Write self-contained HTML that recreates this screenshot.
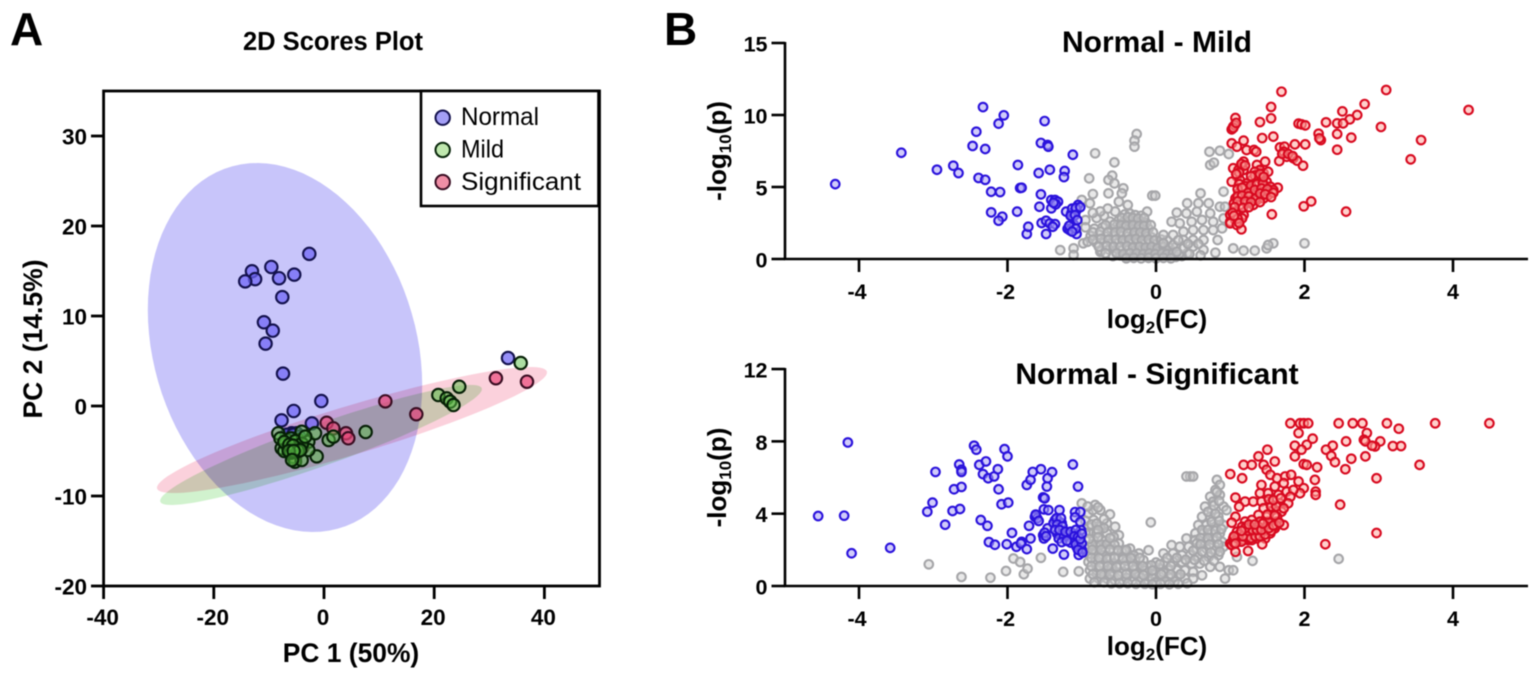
<!DOCTYPE html>
<html lang="en">
<head>
<meta charset="utf-8">
<title>PCA scores plot and volcano plots</title>
<style>
html,body{margin:0;padding:0;background:#fff;width:1535px;height:673px;overflow:hidden}
svg{display:block;filter:blur(.4px)}
text{font-family:"Liberation Sans",sans-serif;fill:#000}
.b{font-weight:700}
</style>
</head>
<body>
<svg id="figure" xmlns="http://www.w3.org/2000/svg" width="1535" height="673" viewBox="0 0 1535 673">
  <rect x="0" y="0" width="1535" height="673" fill="#fff"/>
  <text class="b" x="10" y="45" font-size="46">A</text>
  <text class="b" x="664" y="45" font-size="46">B</text>
  <g id="panelA"></g>
  <g id="panelTop"></g>
  <g id="panelBottom"></g>
</svg>
<script>
/* ---------- Panel A data: flat lists of PC1, PC2 pairs ---------- */
const scoresNormal = [-2.67,16.9, -9.56,15.45, -13.07,14.97, -12.5,14.1, -14.3,13.85, -8.16,14.2, -5.4,14.6, -7.57,12.1, -10.9,9.3, -9.3,8.37, -10.6,6.93, -7.44,3.6, -0.49,0.55, -5.5,-0.55, -7.7,-1.6, -2.2,-1.93, 33.4,5.33, -5.87,-3.03, -4.96,-3.03, -6.77,-3.2, -5.4,-3.5, -6.3,-3.8, -5.6,-3.2, -4.5,-3.4, -5.8,-4.5, -4.9,-4.2, -6.6,-4.3];
const scoresSignificant = [31.2,3.08, 36.84,2.7, 11.13,0.52, 16.75,-0.92, 0.49,-1.86, 1.69,-2.48, 3.99,-3.03, 4.41,-3.59, -5.26,-5.78, -3.9,-4.6];
const scoresMild = [35.7,4.78, 24.55,2.14, 20.75,1.22, 22.27,0.85, 22.9,0.48, 23.5,0.11, 7.56,-2.89, -1.33,-5.6, 0.85,-3.78, 1.7,-3.4, -8.3,-3.03, -7.68,-4.7, -6.77,-3.78, -6.47,-4.7, -5.57,-5.63, -5.26,-6.19, -4.05,-6.0, -4.66,-3.78, -2.85,-3.97, -2.85,-4.89, -4.05,-2.86, -1.63,-3.03, -7.0,-4.2, -6.0,-3.6, -5.2,-3.9, -4.0,-4.2, -7.9,-3.6, -7.2,-5.0, -6.0,-5.2, -3.4,-3.4, -5.0,-4.7, -7.2,-4.0, -6.3,-4.3, -5.6,-4.4, -4.7,-5.0, -4.3,-4.9, -6.4,-5.0, -5.5,-5.0, -5.8,-6.0];
/* ellipse parameters: centre x, centre y, half-range x, half-range y, correlation */
const ellipseNormal = [-7.08,6.5,24.9,20.5,-0.204];
const ellipseMild = [-0.54,-4.33,29.2,6.67,0.93];
const ellipseSignificant = [5.08,-2.67,35.4,7.0,0.915];
const scoresXTicks = [-40,-20,0,20,40];
const scoresYTicks = [-20,-10,0,10,20,30];
const legendLabels = ["Normal","Mild","Significant"];

/* ---------- Panel B data: flat lists of log2(FC), -log10(p) pairs ---------- */
const volcanoXTicks = [-4,-2,0,2,4];
const mildYTicks = [0,5,10,15];
const significantYTicks = [0,4,8,12];

const mildGray = [-0.26,8.68, -0.29,8.22, -0.29,7.8, -0.82,7.34, -0.56,6.71, -0.9,5.6, -0.59,5.79, -0.64,5.49, -0.56,5.25, -0.64,4.56, -0.44,4.91, -0.46,4.56, -0.85,4.51, -0.05,4.4, -0.01,4.4, -0.12,3.29, -0.38,3.75, -0.5,3.98, -1,4.1, -0.89,3.87, -1.29,0.62, -1.11,0.74, -1.11,0.28, -0.75,0.5, -0.98,1.09,
 -0.42,3.1, -0.35,3.15, -0.28,3.05, -0.2,3.0, -0.62,2.6, -0.5,2.7, -0.44,2.55, -0.36,2.65, -0.27,2.55, -0.2,2.6, -0.13,2.5, -0.83,2.1, -0.72,2.2, -0.6,2.1, -0.52,2.05, -0.43,2.15, -0.34,2.05, -0.26,2.1, -0.17,2.0, -0.1,2.1, -0.88,1.6, -0.77,1.7, -0.68,1.55, -0.57,1.65, -0.47,1.6, -0.4,1.55, -0.31,1.65, -0.22,1.55, -0.14,1.6, -0.06,1.5, -0.8,1.1, -0.7,1.15, -0.6,1.05, -0.51,1.1, -0.42,1.15, -0.33,1.05, -0.25,1.1, -0.17,1.0, -0.09,1.1, -0.02,1.0, 0.06,1.05, -0.74,0.6, -0.63,0.65, -0.55,0.55, -0.46,0.6, -0.37,0.65, -0.29,0.55, -0.2,0.6, -0.12,0.5, -0.04,0.6, 0.04,0.5, 0.12,0.6, 0.2,0.55, -0.58,0.2, -0.48,0.25, -0.4,0.15, -0.3,0.2, -0.22,0.25, -0.13,0.15, -0.05,0.2, 0.03,0.15, 0.1,0.25, 0.18,0.2, 0.27,0.15, 0.35,0.2,
 -0.7,3.0, -0.8,2.85, -0.55,3.3, -0.65,3.5, -0.75,3.3, -0.85,3.2, -0.95,2.7, -0.95,2.2, -0.92,1.2,
 -0.46,2.85, -0.38,2.9, -0.31,2.85, -0.24,2.8, -0.16,2.85, -0.68,2.35, -0.56,2.4, -0.47,2.35, -0.4,2.3, -0.31,2.35, -0.23,2.3, -0.16,2.3, -0.07,2.35, -0.85,1.85, -0.75,1.9, -0.65,1.85, -0.55,1.85, -0.47,1.9, -0.38,1.8, -0.29,1.85, -0.21,1.85, -0.13,1.8, -0.04,1.85, -0.85,1.35, -0.74,1.4, -0.64,1.35, -0.54,1.35, -0.45,1.3, -0.36,1.35, -0.27,1.4, -0.19,1.3, -0.1,1.35, -0.02,1.3, 0.07,1.35, 0.15,1.3, -0.77,0.85, -0.66,0.9, -0.57,0.85, -0.48,0.85, -0.39,0.9, -0.31,0.8, -0.22,0.85, -0.14,0.8, -0.06,0.85, 0.02,0.75, 0.1,0.85, 0.18,0.8, 0.27,0.85, -0.68,0.4, -0.53,0.4, -0.44,0.35, -0.35,0.4, -0.26,0.4, -0.17,0.35, -0.09,0.4, -0.01,0.35, 0.08,0.4, 0.15,0.35, 0.23,0.4, 0.31,0.35, 0.42,0.4, -0.4,0.05, -0.3,0.08, -0.2,0.05, -0.1,0.08, 0.0,0.05, 0.1,0.08, 0.2,0.05,
 0.72,7.45, 0.86,7.52, 0.98,7.29, 0.73,6.53, 0.78,6.69, 0.6,4.56, 0.91,4.68, 0.42,3.87, 0.28,3.22, 0.71,3.87, 0.57,3.87, 0.21,2.59, 0.41,3.17, 0.55,3.29, 0.73,3.17, 0.86,3.63, 0.93,3.63, 0.32,2.48, 0.48,2.59, 0.62,2.71, 0.77,2.59, 0.91,2.82, 0.37,1.9, 0.5,2.01, 0.64,2.01, 0.77,2.01, 0.89,2.13, 0.1,1.67, 0.23,1.67, 0.37,1.32, 0.5,1.32, 0.64,1.32, 0.83,1.32, 0.1,1.09, 0.23,0.97, 0.37,0.74, 0.5,0.86, 0.64,0.63, 0.8,0.44, 1.04,0.74, 1.18,0.58, 1.33,0.58, 1.49,0.74, 1.58,1.09, 1.51,0.97, 2.0,1.09, 0.3,1.3, 0.43,1.05, 0.57,1.05, 0.28,0.5, 0.45,0.35, 0.6,0.25];

const mildDown = [-4.32,5.2, -3.43,7.38, -2.95,6.2, -2.73,6.48, -2.66,5.97, -2.47,7.85, -2.42,8.84, -2.33,10.55, -2.3,7.64, -2.12,9.4, -2.05,9.98, -2.39,5.63, -2.3,5.5, -2.22,4.67, -2.1,4.65, -2.22,3.24, -2.07,2.94, -2.12,2.66, -1.87,3.29, -1.86,6.53, -1.83,4.93, -1.81,4.95, -1.74,1.74, -1.72,2.24, -1.57,3.63, -1.55,4.49, -1.58,5.97, -1.43,6.2, -1.55,8.06, -1.46,7.92, -1.45,7.8, -1.5,9.58, -1.12,7.24, -1.23,6.11, -1.24,5.69, -1.54,2.5, -1.48,2.66, -1.43,2.47, -1.36,2.42, -1.39,2.24, -1.48,1.74, -1.41,4.1, -1.36,4.1, -1.32,3.98, -1.41,3.52, -1.35,3.8, -1.21,3.29, -1.14,3.17, -1.1,3.29, -1.05,3.75, -1.07,3.4, -1.12,2.9, -1.1,2.35, -1.19,2.1, -1.16,2.0, -1.07,1.74,
 -1.13,3.5, -1.08,3.55, -1.15,3.0, -1.09,3.05, -1.06,2.7, -1.17,2.3, -1.08,2.1, -1.13,1.9, -1.38,3.9, -1.02,3.6];

const mildUp = [1.69,11.62, 3.1,11.74, 4.21,10.35, 2.81,10.76, 2.51,10.25, 2.71,10.0, 2.61,9.7, 2.29,9.49, 2.44,9.42, 2.52,9.42, 1.55,10.56, 1.55,9.77, 1.4,9.51, 1.07,9.79, 1.04,9.19, 1.02,9.0, 1.06,9.3, 1.92,9.4, 1.96,9.35, 2.01,9.28, 3.03,9.17, 3.57,8.26, 3.43,6.92, 2.19,8.7, 2.22,8.26, 2.2,8.38, 2.44,8.68, 2.63,8.43, 2.44,7.59, 1.43,8.4, 1.58,8.5, 1.87,7.96, 2.01,7.96, 1.18,8.22, 1.02,8.03, 1.09,7.8, 1.22,7.57, 1.32,7.57, 1.35,7.45, 1.67,7.75, 1.73,7.8, 1.72,7.45, 1.76,7.1, 1.66,6.8, 1.85,7.0, 1.9,6.83, 1.98,6.48, 1.47,6.76, 1.18,6.76, 1.16,6.41, 1.04,6.3, 1.11,6.18, 1.18,6.18, 1.09,5.72, 1.02,5.37, 1.13,5.49,
 1.36,6.53, 1.4,6.18, 1.33,6.06, 1.45,5.95, 1.51,6.06, 1.38,5.72, 1.29,5.49, 1.42,5.49, 1.49,5.37, 1.22,5.25, 1.33,5.14, 1.45,5.02, 1.54,5.02, 1.64,4.95, 1.18,4.79, 1.27,4.79, 1.38,4.68, 1.49,4.68, 1.58,4.79, 1.11,4.56, 1.2,4.44, 1.31,4.44, 1.42,4.33, 1.51,4.44, 1.07,4.21, 1.16,4.1, 1.24,4.1, 1.36,4.1, 1.45,4.21, 1.05,3.87, 1.13,3.75, 1.22,3.87, 1.31,3.75, 1.0,3.06, 1.09,3.06, 1.18,3.06, 1.0,2.59, 1.07,2.71, 1.16,2.82, 1.0,2.48, 1.09,2.36, 1.15,2.06, 1.56,3.1, 1.99,3.66, 2.09,4.0, 2.56,3.29,
 1.12,5.2, 1.2,5.05, 1.28,5.1, 1.36,5.2, 1.44,5.25, 1.1,4.85, 1.16,4.95, 1.24,4.6, 1.33,4.8, 1.42,4.9, 1.5,4.85, 1.58,4.6, 1.1,4.35, 1.16,4.4, 1.25,4.35, 1.34,4.2, 1.4,4.55, 1.47,4.5, 1.55,4.3, 1.1,4.0, 1.2,4.0, 1.28,3.95, 1.4,3.95, 1.06,3.6, 1.17,3.55, 1.25,3.6, 1.33,5.8, 1.4,5.9, 1.28,5.75, 1.45,5.7, 1.03,3.2, 1.1,2.8, 1.05,3.0, 1.12,2.5, 1.15,6.6, 1.12,6.0, 1.2,6.5, 1.08,5.9, 1.04,9.1, 1.08,9.45, 1.7,7.3, 1.78,7.3, 1.84,7.15];

const significantGray = [-3.06,1.2, -2.62,0.5, -2.23,0.46, -2.02,0.83, -1.92,1.52, -1.83,1.33, -1.78,0.65, -1.73,0.96, -1.55,1.56, -1.25,0.78, -1.04,0.81, -0.07,3.52, -0.1,1.98,
 -1.0,4.57, -0.82,4.48, -0.75,4.2, -0.62,3.96, -0.91,4.02, -0.66,3.46, -0.55,3.28, -0.84,3.65, -0.75,3.28, -0.91,3.28, -0.5,2.81, -0.89,2.91, -0.8,2.91, -0.66,2.91, -0.57,2.72, -0.84,2.54, -0.73,2.54, -0.62,2.35, -0.5,2.35, -0.35,2.07, -0.91,2.17, -0.8,2.17, -0.68,2.07, -0.57,1.98, -0.46,1.89, -0.23,1.8, -0.91,1.8, -0.82,1.8, -0.71,1.7, -0.62,1.61, -0.5,1.61, -0.39,1.61, -0.28,1.43, -0.17,1.43, -0.91,1.33, -0.82,1.33, -0.71,1.24, -0.59,1.24, -0.48,1.15, -0.37,1.15, -0.26,1.06, -0.12,1.06, -0.01,1.06, -0.89,0.87, -0.8,0.87, -0.68,0.87, -0.57,0.78, -0.46,0.78, -0.35,0.69, -0.23,0.69, -0.12,0.69, -0.01,0.65, -0.89,0.41, -0.77,0.41, -0.66,0.41, -0.55,0.31, -0.44,0.31, -0.32,0.31, -0.21,0.28, -0.1,0.28, -0.01,0.22,
 0.82,5.87, 0.86,5.59, 0.8,5.31, 0.73,4.94, 0.86,5.04, 0.77,4.67, 0.66,4.39, 0.75,4.2, 0.91,4.39, 0.62,3.83, 0.73,3.83, 0.84,3.83, 0.95,4.2, 0.57,3.37, 0.68,3.37, 0.8,3.28, 0.91,3.37, 0.53,2.91, 0.64,2.91, 0.75,2.91, 0.86,2.91, 0.41,2.63, 0.53,2.54, 0.66,2.44, 0.77,2.54, 0.89,2.44, 0.21,2.26, 0.32,2.17, 0.44,2.17, 0.55,2.07, 0.68,2.07, 0.8,1.98, 0.91,2.17, 0.1,1.8, 0.23,1.8, 0.35,1.7, 0.46,1.7, 0.57,1.61, 0.71,1.61, 0.84,1.7, 0.12,1.33, 0.23,1.33, 0.35,1.33, 0.48,1.24, 0.59,1.24, 0.73,1.06, 0.86,1.06, 0.98,0.87, 1.04,0.87, 0.93,0.41, 0.05,0.96, 0.17,0.87, 0.28,0.87, 0.39,0.87, 0.5,0.78, 0.62,0.59, 0.05,0.5, 0.17,0.5, 0.28,0.5, 0.39,0.41, 0.5,0.41, 0.46,6.06, 0.41,6.06, 0.5,6.06, 2.46,1.5, 1.3,1.39, 1.09,1.61,
 -0.4,1.4, -0.6,1.0, -0.75,1.05, -0.3,0.9, -0.5,0.55, -0.15,0.85, 0.0,1.3, -0.05,0.45, 0.1,0.75, 0.2,1.1, -0.7,0.6, -0.4,0.45, -0.2,0.45, 0.0,0.2, 0.12,0.25, 0.25,0.25, -0.3,1.7, -0.42,1.95, -0.68,2.5, -0.75,1.5,
 -0.86,2.3, -0.74,2.3, -0.66,2.32, -0.56,2.28, -0.86,2.0, -0.74,2.0, -0.62,2.02, -0.51,1.98, -0.4,2.0, -0.87,1.55, -0.77,1.55, -0.66,1.5, -0.56,1.55, -0.44,1.5, -0.34,1.55, -0.22,1.55, -0.87,1.1, -0.76,1.1, -0.65,1.1, -0.53,1.05, -0.42,1.1, -0.31,1.1, -0.18,1.1, -0.06,1.15, 0.05,1.2, -0.85,0.65, -0.74,0.65, -0.62,0.65, -0.51,0.6, -0.4,0.65, -0.28,0.65, -0.17,0.6, -0.05,0.85, 0.07,0.65, 0.2,0.65, 0.33,0.65, -0.83,0.2, -0.7,0.2, -0.6,0.15, -0.49,0.15, -0.38,0.15, -0.27,0.12, -0.15,0.12, -0.05,0.1, 0.06,0.12, 0.18,0.1, 0.3,0.12, 0.42,0.15,
 0.62,3.1, 0.7,3.1, 0.8,3.05, 0.88,3.15, 0.6,2.65, 0.7,2.65, 0.82,2.7, 0.55,2.35, 0.6,2.3, 0.72,2.3, 0.84,2.3, 0.5,1.95, 0.62,1.9, 0.74,1.85, 0.86,1.9, 0.4,1.45, 0.52,1.45, 0.65,1.4, 0.78,1.4, 0.28,1.55, 0.15,1.55, 0.75,3.55, 0.85,3.6, 0.7,4.1, 0.8,4.0, 0.78,4.45, 0.85,4.7, 0.82,5.2,
 -0.95,3.6, -0.87,3.4, -0.8,3.45, -0.7,3.2, -0.78,3.1, -0.95,2.95, -0.9,2.6, -0.78,2.7, -0.62,2.65, -0.7,3.7, -0.85,4.2, -0.92,4.4, -0.78,4.35];

const significantDown = [-4.15,7.94, -4.55,3.87, -4.2,3.89, -4.1,1.81, -3.58,2.11, -2.97,6.31, -3.01,4.61, -3.08,4.11, -2.84,3.39, -2.74,4.15, -2.64,4.26, -2.72,5.35, -2.62,5.48, -2.65,6.72, -2.62,6.43, -2.62,6.31, -2.45,7.76, -2.42,7.54, -2.38,6.7, -2.29,6.89, -2.33,6.19, -2.26,5.96, -2.18,6.06, -2.13,6.46, -2.12,5.35, -2.04,7.57, -2.0,7.17, -2.08,4.52, -1.99,4.61, -2.36,3.65, -2.27,3.33, -2.25,2.43, -2.17,2.28, -2.01,2.31, -1.94,2.94, -1.88,2.17, -1.81,2.44, -1.82,2.35, -1.74,2.04, -1.69,2.63, -1.74,5.59, -1.69,5.87, -1.66,6.31, -1.55,6.46, -1.4,6.3, -1.46,5.96, -1.47,5.5, -1.52,4.9, -1.5,4.85, -1.12,6.72, -1.05,5.5, -1.71,3.33, -1.63,3.83, -1.6,3.74, -1.52,2.81, -1.51,2.63, -1.46,3.19, -1.51,4.24, -1.45,4.2, -1.3,4.2, -1.39,2.07, -1.24,1.74,
 -1.36,3.65, -1.31,3.57, -1.27,3.48, -1.38,3.48, -1.33,2.89, -1.29,2.89, -1.31,2.63, -1.24,2.72, -1.18,2.81, -1.11,2.89, -1.13,2.63, -1.09,2.54, -1.04,2.44, -1.07,2.17, -1.02,2.07, -1.0,2.0, -1.04,1.72, -1.09,4.09, -1.02,4.09, -1.09,3.8, -1.02,3.54, -1.01,3.09, -1.27,2.43,
 -1.34,3.75, -1.28,3.75, -1.33,3.4, -1.26,3.3, -1.36,3.1, -1.3,3.1, -1.22,3.0, -1.15,3.0, -1.08,3.1, -1.1,2.75, -1.05,2.7, -1.15,2.4, -1.08,2.3, -1.0,2.35, -1.05,2.0, -0.99,1.85, -1.02,2.6, -1.0,2.9, -1.2,2.5, -1.62,3.95, -1.58,3.6, -1.5,2.95, -1.48,2.75];

const significantUp = [1.81,9, 1.94,9, 1.99,9, 2.05,9, 2.46,9, 2.65,9, 2.78,9, 3.11,9, 3.76,9, 4.49,9, 3.27,8.7, 1.92,8.46, 2.84,8.46, 2.8,8.09, 2.82,8.0, 3.02,8.0, 2.95,7.72, 2.91,7.76, 3.19,7.74, 3.3,7.74, 2.56,8.0, 2.38,7.76, 2.29,7.54, 2.36,7.2, 2.41,6.85, 2.63,7.04, 2.82,7.17, 2.55,6.46, 3.55,6.7, 2.97,5.96, 2.48,4.5, 2.97,2.93, 2.28,2.31, 2.11,8.15, 2.03,7.81, 1.87,7.76, 1.96,7.54, 1.87,7.17, 1.99,6.74, 2.03,6.7, 2.17,6.57, 2.14,5.87, 2.15,5.22, 2.15,5.04,
 1.5,7.54, 1.38,7.17, 1.6,6.89, 1.18,6.7, 1.29,6.7, 1.45,6.7, 1.0,6.19, 1.16,5.96, 1.49,6.43, 1.54,6.15, 1.63,5.96, 1.74,6.06, 1.82,6.15, 1.92,5.78, 1.99,5.41, 1.94,5.13, 1.42,5.59, 1.6,5.5, 1.72,5.69, 1.76,5.22, 1.85,5.31, 1.4,5.13, 1.51,5.13, 1.65,5.04, 1.81,4.94, 1.07,4.89, 1.2,4.67, 1.31,4.67, 1.12,4.39, 1.42,4.67, 1.54,4.57, 1.67,4.57, 1.78,4.57, 1.45,4.3, 1.58,4.2, 1.69,4.11, 1.38,3.93, 1.49,3.83, 1.63,3.83, 1.07,3.83, 1.02,3.5,
 1.2,3.56, 1.29,3.65, 1.4,3.56, 1.51,3.56, 1.63,3.56, 1.72,3.37, 1.16,3.28, 1.27,3.28, 1.38,3.28, 1.49,3.28, 1.6,3.19, 1.09,3.0, 1.2,2.91, 1.31,2.91, 1.42,2.91, 1.54,2.91, 1.04,2.63, 1.13,2.54, 1.24,2.54, 1.36,2.63, 1.47,2.63, 1.0,2.35, 1.07,2.54, 1.18,2.54, 1.29,2.54, 1.02,2.26, 1.07,1.89, 1.24,1.94, 1.43,2.31,
 1.05,2.4, 1.1,2.65, 1.15,2.45, 1.22,2.7, 1.28,2.65, 1.34,2.75, 1.4,2.75, 1.47,2.85, 1.55,3.05, 1.62,3.35, 1.12,2.85, 1.17,2.75, 1.24,3.05, 1.3,3.1, 1.36,3.1, 1.42,3.1, 1.52,3.2, 1.58,3.35, 1.66,3.5, 1.2,3.2, 1.25,3.4, 1.33,3.4, 1.44,3.45, 1.15,3.05, 1.05,2.75, 1.07,2.35, 1.55,4.4, 1.62,4.4, 1.72,4.3, 1.52,4.8, 1.58,4.75, 1.68,4.85, 1.5,3.95, 1.6,3.9];

/* ---------- axis functions ---------- */
const scoresX = v => 324 + v * 5.51;
const scoresY = v => 406 - v * 9.0;
const volcanoX = v => 1156 + v * 74.25;
const mildY = v => 259 - v * 14.4;
const significantY = v => 586 - v * 18.08;

const NS = 'http://www.w3.org/2000/svg';
function make(parent, tag, attrs, content) {
  const el = document.createElementNS(NS, tag);
  for (const k in attrs) el.setAttribute(k, attrs[k]);
  if (content !== undefined) el.textContent = content;
  parent.appendChild(el);
  return el;
}
function pairs(list) {
  const out = [];
  for (let i = 0; i + 1 < list.length; i += 2) out.push([list[i], list[i + 1]]);
  return out;
}

/* ---------- Panel A ---------- */
const panelA = document.getElementById('panelA');

function drawEllipse(params, fill, name) {
  const [cx, cy, ex, ey, rho] = params;
  let d = '';
  for (let i = 0; i <= 96; i++) {
    const t = i / 96 * 2 * Math.PI;
    const x = cx + ex * Math.cos(t);
    const y = cy + ey * (rho * Math.cos(t) + Math.sqrt(1 - rho * rho) * Math.sin(t));
    d += (i ? 'L' : 'M') + scoresX(x).toFixed(1) + ' ' + scoresY(y).toFixed(1);
  }
  const el = make(panelA, 'path', {d: d + 'Z', fill: fill, style: 'mix-blend-mode:multiply'});
  
  
}
drawEllipse(ellipseNormal, '#c8c5fa', 'normal-confidence-ellipse');
drawEllipse(ellipseMild, '#d1f2ce', 'mild-confidence-ellipse');
drawEllipse(ellipseSignificant, '#fbd1dc', 'significant-confidence-ellipse');

function drawScores(list, fill, stroke, name) {
  pairs(list).forEach(p => {
    const el = make(panelA, 'circle', {cx: scoresX(p[0]), cy: scoresY(p[1]), r: 6.2, fill: fill, stroke: stroke, 'stroke-width': 2.1});
    
    
  });
}
drawScores(scoresNormal, 'rgba(110,100,245,.72)', '#14124e', 'normal-sample-point');
drawScores(scoresSignificant, 'rgba(235,70,120,.68)', '#3a0d22', 'significant-sample-point');
drawScores(scoresMild, 'rgba(90,190,70,.5)', '#062006', 'mild-sample-point');

const frame = make(panelA, 'rect', {x: scoresX(-40), y: scoresY(35), width: scoresX(50) - scoresX(-40), height: scoresY(-20) - scoresY(35), fill: 'none', stroke: '#000', 'stroke-width': 2.8});



scoresXTicks.forEach(v => {
  const tick = make(panelA, 'line', {x1: scoresX(v), x2: scoresX(v), y1: 586, y2: 599, stroke: '#000', 'stroke-width': 2.8});
  
  
  const label = make(panelA, 'text', {x: scoresX(v) - 1, y: 625, 'text-anchor': 'middle', 'font-size': 22.5, class: 'b'}, String(v));
  
  
});
scoresYTicks.forEach(v => {
  const tick = make(panelA, 'line', {x1: 91, x2: 104, y1: scoresY(v), y2: scoresY(v), stroke: '#000', 'stroke-width': 2.8});
  
  
  const label = make(panelA, 'text', {x: 87, y: scoresY(v) + 8.5, 'text-anchor': 'end', 'font-size': 22.5, class: 'b'}, String(v));
  
  
});

const scoresTitle = make(panelA, 'text', {x: 333, y: 50, 'text-anchor': 'middle', 'font-size': 25.5, class: 'b'}, '2D Scores Plot');


const scoresXTitle = make(panelA, 'text', {x: 351, y: 662, 'text-anchor': 'middle', 'font-size': 26.4, class: 'b'}, 'PC 1 (50%)');


const scoresYTitle = make(panelA, 'text', {x: 42, y: 339, 'text-anchor': 'middle', 'font-size': 26.5, class: 'b', transform: 'rotate(-90 42 339)'}, 'PC 2 (14.5%)');



const legendBox = make(panelA, 'rect', {x: 421, y: 91, width: 177.5, height: 115, fill: '#fff', stroke: '#000', 'stroke-width': 2.6});


const legendFills = ['#a39ef5', '#bfe8ae', '#f08ea6'];
const legendStrokes = ['#14124e', '#08260a', '#3a0d22'];
const legendWidths = [78, 43, 120];
legendLabels.forEach((label, i) => {
  const marker = make(panelA, 'circle', {cx: 442.7, cy: 117.7 + i * 32.2, r: 7.2, fill: legendFills[i], stroke: legendStrokes[i], 'stroke-width': 2});
  
  
  const text = make(panelA, 'text', {x: 461, y: 125 + i * 32.5, 'font-size': 25, textLength: legendWidths[i], lengthAdjust: 'spacingAndGlyphs'}, label);
  
  
});

/* ---------- Panel B ---------- */
function drawVolcano(group, yScale, yTicks, gray, down, up, title, titleY, baseY, prefix) {
  const dots = (list, fill, stroke, name) => {
    pairs(list).forEach(p => {
      const el = make(group, 'circle', {cx: volcanoX(p[0]), cy: yScale(p[1]), r: 4.3, fill: fill, stroke: stroke, 'stroke-width': 2.1});
      
      
    });
  };
  dots(gray, 'rgba(205,205,205,.45)', '#a6a6a9', prefix + '-unchanged-point');
  dots(down, 'rgba(170,160,245,.55)', '#2a12dc', prefix + '-down-point');
  dots(up, 'rgba(255,170,160,.55)', '#d80a20', prefix + '-up-point');

  const xAxis = make(group, 'line', {x1: 784, x2: 1528, y1: baseY, y2: baseY, stroke: '#000', 'stroke-width': 2.6});
  
  
  const topValue = yTicks[yTicks.length - 1];
  const yAxis = make(group, 'line', {x1: 785, x2: 785, y1: yScale(topValue) - 1, y2: baseY, stroke: '#000', 'stroke-width': 2.6});
  
  

  volcanoXTicks.forEach(v => {
    const tick = make(group, 'line', {x1: volcanoX(v), x2: volcanoX(v), y1: baseY, y2: baseY + 13, stroke: '#000', 'stroke-width': 2.6});
    
    
    const label = make(group, 'text', {x: volcanoX(v) - (v < 0 ? 2 : 0), y: baseY + 40, 'text-anchor': 'middle', 'font-size': 21.5, class: 'b'}, String(v));
    
    
  });
  yTicks.forEach(v => {
    const tick = make(group, 'line', {x1: 771.5, x2: 785, y1: yScale(v), y2: yScale(v), stroke: '#000', 'stroke-width': 2.6});
    
    
    const label = make(group, 'text', {x: 767.5, y: yScale(v) + 8.5, 'text-anchor': 'end', 'font-size': 21.5, class: 'b'}, String(v));
    
    
  });

  const heading = make(group, 'text', {x: 1157, y: titleY, 'text-anchor': 'middle', 'font-size': 30, class: 'b'}, title);
  
  

  const xTitle = make(group, 'text', {x: 1157, y: baseY + 69, 'text-anchor': 'middle', 'font-size': 26, class: 'b'});
  
  
  make(xTitle, 'tspan', {}, 'log');
  make(xTitle, 'tspan', {dy: 5, 'font-size': 17}, '2');
  make(xTitle, 'tspan', {dy: -5}, '(FC)');

  const midY = (yScale(topValue) + baseY) / 2;
  const yTitle = make(group, 'text', {x: 726, y: midY, 'text-anchor': 'middle', 'font-size': 26, class: 'b', transform: 'rotate(-90 726 ' + midY + ')'});
  
  
  make(yTitle, 'tspan', {}, '-log');
  make(yTitle, 'tspan', {dy: 5, 'font-size': 17}, '10');
  make(yTitle, 'tspan', {dy: -5}, '(p)');
}

drawVolcano(document.getElementById('panelTop'), mildY, mildYTicks, mildGray, mildDown, mildUp, 'Normal - Mild', 52, 259, 'mild');
drawVolcano(document.getElementById('panelBottom'), significantY, significantYTicks, significantGray, significantDown, significantUp, 'Normal - Significant', 384, 586, 'significant');
</script>
</body>
</html>
